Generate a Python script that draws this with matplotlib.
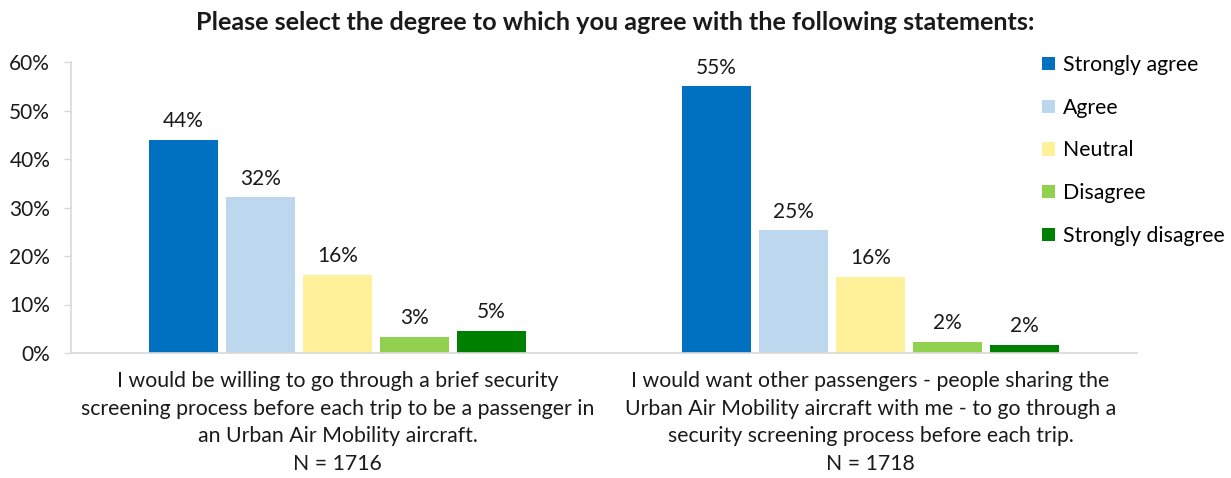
import matplotlib
matplotlib.use("Agg")
import matplotlib.pyplot as plt
import numpy as np
from matplotlib.patches import Patch

plt.rcParams['font.family'] = ['Lato', 'DejaVu Sans']

title = "Please select the degree to which you agree with the following statements:"
categories = [
    "I would be willing to go through a brief security\nscreening process before each trip to be a passenger in\nan Urban Air Mobility aircraft.\nN = 1716",
    "I would want other passengers - people sharing the\nUrban Air Mobility aircraft with me - to go through a\nsecurity screening process before each trip.\nN = 1718",
]
series_names = ["Strongly agree", "Agree", "Neutral", "Disagree", "Strongly disagree"]
series_colors = ["#0070C0", "#BDD7EE", "#FFF09A", "#92D050", "#008000"]
values = [
    [44.0, 55.0],   # Strongly agree
    [32.1, 25.3],   # Agree
    [16.1, 15.7],   # Neutral
    [3.4, 2.3],     # Disagree
    [4.6, 1.7],     # Strongly disagree
]
yticks = [0, 10, 20, 30, 40, 50, 60]

fig = plt.figure(figsize=(12.31, 4.78), dpi=100)
ax = fig.add_axes([71/1231, 1-353/478, (1137-71)/1231, (353-62)/478])

x = np.arange(len(categories))
step = 0.1445
width = 0.131
n = len(series_names)
for i, (name, col, vals) in enumerate(zip(series_names, series_colors, values)):
    pos = x + (i - (n-1)/2) * step
    bars = ax.bar(pos, vals, width=width, color=col, label=name, zorder=2)
    for b, v in zip(bars, vals):
        ax.text(b.get_x() + b.get_width()/2, v + 1.8, f"{round(v)}%", ha='center', va='bottom',
                fontsize=15, color='#1a1a1a')

ax.set_xlim(-0.5, 1.5)
ax.set_ylim(0, 60)
ax.set_yticks(yticks)
ax.set_yticklabels([f"{t}%" for t in yticks], fontsize=15, color='#1a1a1a')
ax.set_xticks(x)
ax.set_xticklabels(categories, fontsize=15.3, color='#1a1a1a', linespacing=1.48)
ax.tick_params(axis='x', length=0, pad=13)
ax.tick_params(axis='y', length=5, color='#D9D9D9', width=1, pad=10)
for s in ['top', 'right']:
    ax.spines[s].set_visible(False)
for s in ['left', 'bottom']:
    ax.spines[s].set_color('#D9D9D9')
    ax.spines[s].set_linewidth(1.2)

fig.text(0.5, 1-22/478, title, ha='center', va='center', fontsize=18.2, fontweight='bold', color='#1a1a1a')

handles = [Patch(facecolor=c, label=nm) for nm, c in zip(series_names, series_colors)]
fig.legend(handles=handles, loc='upper left', bbox_to_anchor=(1042/1231, 1-55/478), frameon=False,
           fontsize=15.3, handlelength=0.6, handleheight=0.6, handletextpad=0.4, labelspacing=1.07,
           borderpad=0, borderaxespad=0)

fig.savefig("out.png", dpi=100)
